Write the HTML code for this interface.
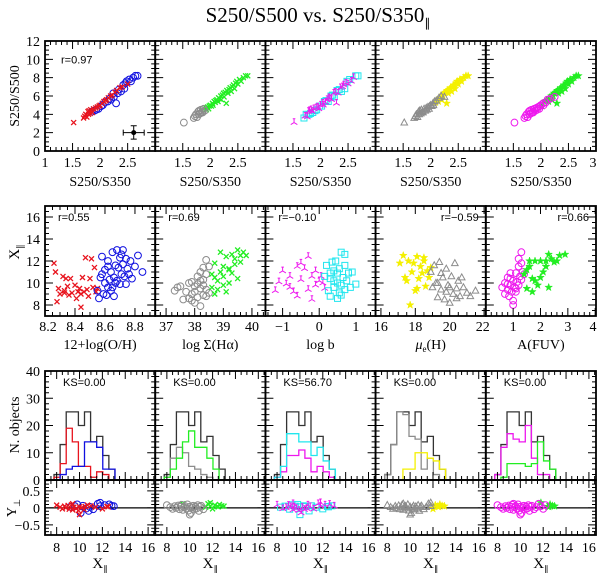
<!DOCTYPE html>
<html><head><meta charset="utf-8">
<style>
html,body{margin:0;padding:0;background:#fff;}
svg{display:block;font-family:"Liberation Serif",serif;}
.lab{font-family:"Liberation Sans",sans-serif;font-size:11px;}
</style></head>
<body>
<svg id="fig" width="600" height="573" viewBox="0 0 600 573" xmlns="http://www.w3.org/2000/svg">
<text x="318" y="22" font-size="21" text-anchor="middle">S250/S500 vs. S250/S350<tspan font-size="12" dy="5">∥</tspan></text>
<text transform="translate(19,96) rotate(-90)" font-size="14" text-anchor="middle">S250/S500</text>
<text transform="translate(19,252) rotate(-90)" font-size="15" text-anchor="middle">X<tspan font-size="9" dy="4">∥</tspan></text>
<text transform="translate(19,425) rotate(-90)" font-size="14" text-anchor="middle">N. objects</text>
<text transform="translate(16,508) rotate(-90)" font-size="14" text-anchor="middle">Y<tspan font-size="9" dy="4">⊥</tspan></text>
</svg>
<script>
// ---------- data ----------
const topX=[1.52,1.70,1.72,1.74,1.76,1.78,1.79,1.80,1.82,1.83,1.85,1.86,1.88,1.90,1.92,1.93,1.95,1.97,1.98,2.00,2.02,2.04,2.05,2.07,2.09,2.10,2.12,2.14,2.15,2.17,2.19,2.20,2.22,2.24,2.25,2.27,2.29,2.30,2.32,2.34,2.36,2.38,2.40,2.42,2.44,2.46,2.48,2.50,2.53,2.56,2.60,2.64,2.68];
const topY=[3.1,3.6,3.8,4.0,3.7,4.3,4.0,4.4,4.1,4.5,4.3,4.2,4.6,4.4,4.7,4.5,4.8,4.6,4.9,5.0,4.9,5.2,5.0,5.4,5.3,5.5,5.6,5.4,5.8,5.7,6.0,5.6,6.1,6.3,5.9,6.4,5.2,6.6,6.3,6.7,6.9,6.5,7.0,7.2,6.8,7.4,7.6,7.3,7.8,7.6,8.0,8.2,8.2];
const topFlags=["11111111110110101011010101101010100101001010000100000","11111111111111000000000000000000000000000000000000000","10101101011010101101011010101101010110101011010101100","11111111111111111111111101001010001000000000000000000","11111111111111111111011010100100001000000000000000000"];
const ohRedX=[8.26,8.27,8.28,8.29,8.30,8.32,8.33,8.34,8.35,8.36,8.37,8.38,8.40,8.41,8.42,8.43,8.44,8.45,8.46,8.47,8.48,8.49,8.50,8.51,8.52,8.53,8.54,8.55,8.33,8.44];
const ohRedY=[11.8,11.0,8.3,9.5,9.0,10.6,9.3,10.4,9.7,8.9,10.4,9.1,9.8,8.6,9.2,9.5,9.0,10.5,9.2,12.3,9.4,8.8,10.4,12.2,9.6,11.4,9.2,9.5,9.1,7.8];
const ohBlueX=[8.55,8.56,8.57,8.58,8.59,8.60,8.60,8.61,8.62,8.62,8.63,8.64,8.64,8.65,8.66,8.66,8.67,8.68,8.68,8.69,8.70,8.70,8.71,8.72,8.72,8.73,8.74,8.74,8.75,8.76,8.77,8.78,8.80,8.82,8.85,8.67,8.71,8.65,8.62,8.58];
const ohBlueY=[9.3,8.6,10.5,12.4,9.0,10.0,11.2,8.9,9.6,12.0,10.3,11.0,9.3,12.8,10.5,8.8,11.6,10.2,13.0,11.4,9.9,12.3,10.8,13.0,11.7,10.6,12.2,9.9,11.3,10.8,12.0,10.4,11.5,12.5,11.0,10.0,12.6,9.6,11.5,10.8];
const haGrayX=[37.3,37.4,37.5,37.6,37.7,37.8,37.9,37.9,38.0,38.0,38.1,38.1,38.2,38.2,38.2,38.3,38.3,38.3,38.4,38.4,38.4,38.5,38.5,37.8,38.0,38.2,38.1,37.9,38.3,38.4];
const haGrayY=[9.3,9.6,9.7,8.5,9.2,8.6,10.1,9.0,8.2,9.7,10.6,8.7,9.5,11.0,7.9,10.3,8.9,9.8,12.1,9.4,10.8,11.5,9.1,10.0,9.2,10.2,9.9,8.4,11.4,8.8];
const haGreenX=[38.6,38.6,38.7,38.7,38.8,38.8,38.9,38.9,39.0,39.0,39.1,39.1,39.2,39.2,39.3,39.3,39.4,39.4,39.5,39.5,39.6,39.6,39.7,39.8,38.7,39.0,39.2];
const haGreenY=[9.6,10.8,9.0,11.8,10.2,9.4,11.0,12.8,9.8,10.6,12.4,9.2,11.3,10.0,12.6,10.9,11.7,12.2,10.4,13.0,11.9,12.5,12.8,12.5,10.5,11.5,11.2];
const lbMagX=[-1.2,-1.1,-1.0,-0.9,-0.8,-0.7,-0.6,-0.6,-0.5,-0.4,-0.3,-0.3,-0.2,-0.1,-0.1,0.0,0.05,0.1,0.15,-0.5,-0.8,-0.2];
const lbMagY=[9.3,10.1,11.1,9.9,10.6,9.2,11.5,8.8,10.3,11.3,12.4,9.4,10.6,11.1,9.8,10.2,10.6,10.0,9.5,11.8,9.6,8.5];
const lbCyanX=[0.15,0.2,0.25,0.3,0.3,0.35,0.4,0.4,0.45,0.5,0.5,0.55,0.6,0.6,0.65,0.7,0.7,0.75,0.8,0.85,0.9,1.0,0.4,0.5,0.6,0.3,0.7,0.55];
const lbCyanY=[10.6,11.6,9.3,10.9,8.8,11.9,10.2,9.6,12.0,10.9,8.6,11.3,9.8,12.8,10.5,9.4,11.6,10.2,10.9,9.6,11.0,9.9,11.1,10.0,8.9,10.4,12.6,9.1];
const muYelX=[17.1,17.3,17.5,17.6,17.8,17.9,18.0,18.1,18.2,18.3,18.4,18.5,18.6,18.7,18.8,18.9,17.7,18.1,18.5,17.4];
const muYelY=[11.8,12.5,10.2,12.0,11.0,11.8,9.3,12.4,10.4,11.5,10.9,12.3,9.7,11.1,10.5,11.4,8.0,9.5,12.0,10.5];
const muGrayX=[18.9,19.0,19.1,19.2,19.3,19.4,19.5,19.6,19.7,19.8,19.9,20.0,20.1,20.2,20.3,20.4,20.5,20.6,20.7,20.8,21.0,21.2,21.5,19.5,20.0,19.3,20.4,19.8];
const muGrayY=[11.0,9.6,11.6,10.0,8.7,11.9,9.4,10.5,8.5,11.3,9.8,8.2,10.6,9.0,11.8,9.5,10.2,8.8,10.5,9.6,9.1,8.8,9.3,10.9,9.6,10.0,8.6,9.2];
const afMagX=[0.6,0.7,0.7,0.8,0.8,0.85,0.9,0.9,0.95,1.0,1.0,1.05,1.1,1.1,1.15,1.2,1.2,1.25,1.3,1.3,1.35,1.4,1.0,0.9,1.1,1.2,0.8,1.3];
const afMagY=[9.6,9.0,10.0,9.4,10.5,8.8,9.8,10.4,9.2,10.2,8.4,9.6,10.9,9.2,10.1,11.5,9.8,10.6,12.8,10.3,11.0,10.8,8.0,10.9,9.5,12.2,9.9,11.8];
const afGreenX=[1.4,1.5,1.5,1.6,1.7,1.7,1.8,1.9,2.0,2.0,2.1,2.2,2.3,2.3,2.4,2.5,2.6,2.7,2.9,1.6,1.8,2.2];
const afGreenY=[10.8,9.5,11.2,12.0,9.2,10.4,12.0,9.8,12.0,10.5,11.0,12.0,12.6,9.6,12.2,11.9,12.0,12.5,12.6,11.5,10.2,11.5];
const rValues=["r=0.97","r=0.55","r=0.69","r=\u22120.10","r=\u22120.59","r=0.66"];
const ksValues=["KS=0.00","KS=0.00","KS=56.70","KS=0.00","KS=0.00"];
const histStart=7.77, histWidth=0.533;
const histAll=[2,13,25,25,20,25,14,16,9,4];
const histA=[[1,6,19,14,5,5,1,3,2,0],[1,8,12,10,5,4,2,1,0,0],[1,3,9,9,11,8,3,5,3,1],[2,13,25,24,16,15,4,8,2,0],[2,12,17,15,14,20,8,2,2,0]];
const histB=[[0,2,4,5,5,14,14,12,4,4],[1,4,8,14,18,12,12,8,4,0],[1,5,17,17,14,14,9,12,7,4],[0,0,0,4,4,10,10,8,7,4],[0,1,6,6,6,5,6,14,7,4]];
const resX=[8.0,8.3,8.5,8.7,8.8,9.0,9.1,9.2,9.3,9.4,9.5,9.6,9.7,9.8,9.9,10.0,10.1,10.2,10.3,10.4,10.5,10.6,10.7,10.8,10.9,11.0,11.2,11.4,11.6,11.8,12.0,12.2,12.4,12.6,12.8,13.0,9.4,10.0,11.8,12.5];
const resY=[0.08,0.02,-0.03,0.05,0.0,0.07,-0.04,0.03,0.09,-0.06,0.02,0.05,-0.02,0.10,-0.08,0.03,-0.15,0.01,0.06,-0.05,0.04,-0.02,0.08,-0.09,0.03,0.06,-0.04,0.02,0.12,0.05,-0.03,0.08,0.04,0.10,0.06,0.05,0.12,-0.20,0.15,0.03];
const resFlags=["1111111011101011010110100101001010001101","1111111111111111111111111110000000000100","1010110101101010110101101010110101011010","1111111111111111111111111111110000001110","1111111111111111111111111111111100001100"];

// ---------- styling per panel ----------
const COL={red:"#e8141e",blue:"#1010e0",green:"#22ee22",gray:"#8c8c8c",cyan:"#22e6ee",mag:"#ee18ee",yel:"#f4f000"};
const topStyle=[[["cross","red"],["circle","blue"]],[["circle","gray"],["cross","green"]],[["tri","mag"],["square","cyan"]],[["triangle","gray"],["star","yel"]],[["circle","mag"],["star","green"]]];
const midSets=[
 [[ohRedX,ohRedY,"cross","red"],[ohBlueX,ohBlueY,"circle","blue"]],
 [[haGrayX,haGrayY,"circle","gray"],[haGreenX,haGreenY,"cross","green"]],
 [[lbMagX,lbMagY,"tri","mag"],[lbCyanX,lbCyanY,"square","cyan"]],
 [[muYelX,muYelY,"star","yel"],[muGrayX,muGrayY,"triangle","gray"]],
 [[afMagX,afMagY,"circle","mag"],[afGreenX,afGreenY,"star","green"]]];
const histCol=[["red","blue"],["gray","green"],["mag","cyan"],["gray","yel"],["mag","green"]];

const NS="http://www.w3.org/2000/svg";
const svg=document.getElementById("fig");
const L=[45,155.2,265.4,375.6,485.8], W=110.2;
const ROW={top:[41,151],mid:[206,316],hist:[371,480],res:[480,535]};
const topXr=[1,3], topYr=[0,12];
const midXr=[[8.2,8.935],[36.62,40.47],[-1.47,1.54],[15.69,22.1],[0,4.03]];
const midYr=[7,17];
const histXr=[6.98,16.62], histYr=[0,40], resYr=[-0.8,0.82];

function el(tag,attrs,parent){const e=document.createElementNS(NS,tag);for(const k in attrs)e.setAttribute(k,attrs[k]);(parent||svg).appendChild(e);return e;}
function scale(d0,d1,r0,r1){return v=>r0+(v-d0)/(d1-d0)*(r1-r0);}

function marker(g,type,x,y,color){
  let e;
  const s=3.3;
  if(type==="circle"){e=el("circle",{cx:x,cy:y,r:3.4,fill:"none",stroke:color,"stroke-width":1},g);}
  else if(type==="cross"){e=el("path",{d:`M${x-s+0.8},${y-s+0.8}L${x+s-0.8},${y+s-0.8}M${x-s+0.8},${y+s-0.8}L${x+s-0.8},${y-s+0.8}`,stroke:color,"stroke-width":1.3,fill:"none"},g);}
  else if(type==="square"){e=el("rect",{x:x-3,y:y-3,width:6,height:6,fill:"none",stroke:color,"stroke-width":1},g);}
  else if(type==="triangle"){e=el("path",{d:`M${x},${y-3.6}L${x+3.3},${y+2.4}L${x-3.3},${y+2.4}Z`,fill:"none",stroke:color,"stroke-width":1},g);}
  else if(type==="tri"){e=el("path",{d:`M${x},${y}V${y-3.8}M${x},${y}L${x+3.3},${y+2}M${x},${y}L${x-3.3},${y+2}M${x-1.3},${y-3.8}H${x+1.3}`,fill:"none",stroke:color,"stroke-width":1},g);}
  else {let p="";for(let i=0;i<10;i++){const a=-Math.PI/2+i*Math.PI/5,r=i%2?1.6:4;p+=(i?"L":"M")+(x+r*Math.cos(a)).toFixed(2)+","+(y+r*Math.sin(a)).toFixed(2);}e=el("path",{d:p+"Z",fill:color,stroke:color,"stroke-width":0.5},g);}
  
  
}

function ticks(x0,y0,x1,y1,sx,sy,xr,yr,xmaj,xmin,ymaj,ymin,name){
  const g=el("g",{stroke:"#000","stroke-width":1,fill:"none"});
  
  
  let d="";
  const eps=1e-6;
  const start=Math.ceil(xr[0]/xmin-eps)*xmin;
  for(let v=start;v<=xr[1]+eps;v+=xmin){const px=sx(v);const maj=Math.abs(v/xmaj-Math.round(v/xmaj))<1e-4;const l=maj?8:4;d+=`M${px},${y1}v${-l}M${px},${y0}v${l}`;}
  const ys=Math.ceil(yr[0]/ymin-eps)*ymin;
  for(let v=ys;v<=yr[1]+eps;v+=ymin){const py=sy(v);const maj=Math.abs(v/ymaj-Math.round(v/ymaj))<1e-4;const l=maj?8:4;d+=`M${x0},${py}h${l}M${x1},${py}h${-l}`;}
  el("path",{d:d},g);
}
function frame(x0,y0,x1,y1,name){
  const r=el("rect",{x:x0,y:y0,width:x1-x0,height:y1-y0,fill:"none",stroke:"#000","stroke-width":1.8});
  
  
}
function label(x,y,txt,anchor,size,name,cls){
  const t=el("text",{x:x,y:y,"text-anchor":anchor||"middle","font-size":size||14});
  if(cls)t.setAttribute("class",cls);
  t.textContent=txt;
  
  
  return t;
}

// ---------- top row ----------
for(let p=0;p<5;p++){
  const x0=L[p],x1=L[p]+W,[y0,y1]=ROW.top;
  const sx=scale(topXr[0],topXr[1],x0,x1), sy=scale(topYr[0],topYr[1],y1,y0);
  const g=el("g",{});
  
  
  for(const pass of [1,0]){
    for(let i=0;i<topX.length;i++){
      const f=topFlags[p][i]==="1"?0:1;
      if(f!==pass)continue;
      const st=topStyle[p][f];
      marker(g,st[0],sx(topX[i]),sy(topY[i]),COL[st[1]]);
    }
  }
  ticks(x0,y0,x1,y1,sx,sy,topXr,topYr,0.5,0.1,2,0.5,'top-'+(p+1));
  frame(x0,y0,x1,y1,'top-panel-'+(p+1));
  const xl=p===0?["1","1.5","2","2.5"]:p===4?["1.5","2","2.5","3"]:["1.5","2","2.5"];
  for(const v of xl)label(Math.min(sx(+v),x1-3),167,v,"middle",14,'x-tick-label');
  label((x0+x1)/2,186,"S250/S350","middle",14,'x-axis-title-top');
  if(p===0){
    for(let v=0;v<=12;v+=2)label(x0-5,sy(v)+5,String(v),"end",14,'y-tick-label');
    label(x0+16,sy(10)+4,rValues[0],"start",11,'correlation-label','lab');
    const eb=el("path",{d:`M${sx(2.42)},${sy(2)}H${sx(2.8)}M${sx(2.61)},${sy(2.75)}V${sy(1.3)}M${sx(2.42)},${sy(2)-3}v6M${sx(2.8)},${sy(2)-3}v6M${sx(2.61)-3},${sy(2.75)}h6M${sx(2.61)-3},${sy(1.3)}h6`,stroke:"#000","stroke-width":1,fill:"none"});
    
    
    const ed=el("circle",{cx:sx(2.61),cy:sy(2),r:2.5,fill:"#000"});
    
    
  }
}

// ---------- middle row ----------
const midTicks=[[0.2,0.05,["8.2","8.4","8.6","8.8"]],[1,0.2,["37","38","39","40"]],[1,0.2,["\u22121","0","1"]],[2,0.5,["16","18","20","22"]],[1,0.2,["1","2","3","4"]]];
const midTitles=["12+log(O/H)","log \u03A3(H\u03B1)","log  b","\u03BCe(H)","A(FUV)"];
for(let p=0;p<5;p++){
  const x0=L[p],x1=L[p]+W,[y0,y1]=ROW.mid;
  const xr=midXr[p];
  const sx=scale(xr[0],xr[1],x0,x1), sy=scale(midYr[0],midYr[1],y1,y0);
  const g=el("g",{});
  
  
  for(const set of midSets[p]){
    for(let i=0;i<set[0].length;i++)marker(g,set[2],sx(set[0][i]),sy(set[1][i]),COL[set[3]]);
  }
  ticks(x0,y0,x1,y1,sx,sy,xr,midYr,midTicks[p][0],midTicks[p][1],2,0.5,'mid-'+(p+1));
  frame(x0,y0,x1,y1,'mid-panel-'+(p+1));
  for(const v of midTicks[p][2]){const n=+v.replace("\u2212","-");label(Math.min(Math.max(sx(n),x0+3),x1-3),331,v,"middle",14,'x-tick-label');}
  if(p===3){const t=label((x0+x1)/2,349,"","middle",14,'x-axis-title-mid');t.innerHTML='<tspan font-style="italic">\u03BC</tspan><tspan font-size="9" dy="3">e</tspan><tspan dy="-3">(H)</tspan>';}
  else label((x0+x1)/2,349,midTitles[p],"middle",14,'x-axis-title-mid');
  if(p===0)for(let v=8;v<=16;v+=2)label(x0-5,sy(v)+5,String(v),"end",14,'y-tick-label');
  if(p<3)label(x0+13,sy(16)+4,rValues[p+1],"start",11,'correlation-label','lab');
  else label(x1-7,sy(16)+4,rValues[p+1],"end",11,'correlation-label','lab');
}

// ---------- histogram row ----------
function stepPath(counts,sx,sy){
  let d=`M${sx(histStart)},${sy(0)}`;
  for(let i=0;i<counts.length;i++){d+=`V${sy(counts[i])}H${sx(histStart+(i+1)*histWidth)}`;}
  return d+`V${sy(0)}`;
}
for(let p=0;p<5;p++){
  const x0=L[p],x1=L[p]+W,[y0,y1]=ROW.hist;
  const sx=scale(histXr[0],histXr[1],x0,x1), sy=scale(histYr[0],histYr[1],y1,y0);
  const ha=el("path",{d:stepPath(histAll,sx,sy),fill:"none",stroke:"#333","stroke-width":1.3});
  
  
  const h1=el("path",{d:stepPath(histA[p],sx,sy),fill:"none",stroke:COL[histCol[p][0]],"stroke-width":1.3});
  
  
  const h2=el("path",{d:stepPath(histB[p],sx,sy),fill:"none",stroke:COL[histCol[p][1]],"stroke-width":1.3});
  
  
  ticks(x0,y0,x1,y1,sx,sy,histXr,histYr,2,0.5,10,2,'hist-'+(p+1));
  frame(x0,y0,x1,y1,'hist-panel-'+(p+1));
  label(x0+18,sy(34.5),ksValues[p],"start",11,'ks-label','lab');
  if(p===0)for(let v=0;v<=40;v+=10)label(x0-5,sy(v)+5,String(v),"end",14,'y-tick-label');
}
// ---------- residual row ----------
const resColor=[["red","blue"],["gray","green"],["mag","cyan"],["gray","yel"],["mag","green"]];
const resShape=[["cross","circle"],["circle","cross"],["tri","square"],["triangle","star"],["circle","star"]];
for(let p=0;p<5;p++){
  const x0=L[p],x1=L[p]+W,[y0,y1]=ROW.res;
  const sx=scale(histXr[0],histXr[1],x0,x1), sy=scale(resYr[0],resYr[1],y1,y0);
  const z=el("line",{x1:x0,x2:x1,y1:sy(0),y2:sy(0),stroke:"#000","stroke-width":1.2});
  
  
  const g=el("g",{});
  
  
  for(const pass of [1,0]){
    for(let i=0;i<resX.length;i++){
      const f=resFlags[p][i]==="1"?0:1;
      if(f!==pass)continue;
      marker(g,resShape[p][f],sx(resX[i]),sy(resY[i]),COL[resColor[p][f]]);
    }
  }
  ticks(x0,y0,x1,y1,sx,sy,histXr,resYr,2,0.5,0.5,0.1,'res-'+(p+1));
  frame(x0,y0,x1,y1,'res-panel-'+(p+1));
  for(const v of [8,10,12,14,16])label(sx(v),552,String(v),"middle",14,'x-tick-label');
  const t=label((x0+x1)/2,568,"","middle",15,'x-axis-title-bottom');
  t.innerHTML='X<tspan font-size="9" dy="4">∥</tspan>';
  if(p===0){label(x0-5,sy(0.5)+5,"0.5","end",14,'y-tick-label');label(x0-5,sy(0)+5,"0","end",14,'y-tick-label');label(x0-5,sy(-0.5)+5,"\u22120.5","end",14,'y-tick-label');}
}
</script>
</body></html>
